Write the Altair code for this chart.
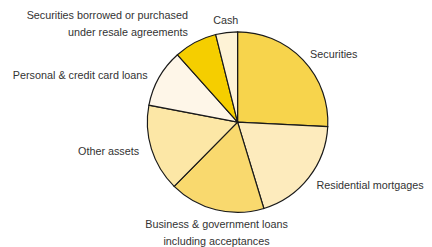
import altair as alt
import pandas as pd

categories = [
    "Securities",
    "Residential mortgages",
    "Business & government loans\nincluding acceptances",
    "Other assets",
    "Personal & credit card loans",
    "Securities borrowed or purchased\nunder resale agreements",
    "Cash",
]
shares = [25.8, 19.5, 17.1, 15.6, 10.4, 7.7, 3.9]
colors = ["#F7D44C", "#FDEBBD", "#F9D96E", "#FCE7A6", "#FEF6E8", "#F5CE00", "#FEF3D6"]
label_group = ["left", "left", "bottomside", "right", "right2", "topright", "topcenter"]

df = pd.DataFrame({
    "category": categories,
    "share": shares,
    "order": list(range(len(categories))),
    "group": label_group,
})

base = alt.Chart(df)

pie = base.mark_arc(outerRadius=92, stroke="#1a1a1a", strokeWidth=1.2).encode(
    theta=alt.Theta("share:Q", stack=True),
    order=alt.Order("order:Q", sort="ascending"),
    color=alt.Color("category:N", scale=alt.Scale(domain=categories, range=colors), legend=None),
)

font = "Liberation Sans"
text_style = dict(font=font, fontSize=11, color="#333333", lineHeight=17)

def label_layer(group, align, baseline, radius, dx=0, dy=0):
    return base.transform_joinaggregate(total="sum(share)").transform_window(
        cum="sum(share)", sort=[alt.SortField("order")]
    ).transform_calculate(
        frac="(datum.cum - datum.share/2) / datum.total"
    ).transform_filter(alt.datum.group == group).mark_text(
        align=align, baseline=baseline, radius=radius, lineBreak="\n",
        dx=dx, dy=dy, **text_style
    ).encode(
        theta=alt.Theta("frac:Q", scale=alt.Scale(domain=[0, 1], range=[0, 6.283185307179586])),
        text="category:N",
    )

labels = alt.layer(
    label_layer("left", "left", "middle", 102, dx=0, dy=2),
    label_layer("right", "right", "middle", 103, dx=-2),
    label_layer("right2", "right", "middle", 103, dx=-2, dy=4),
    label_layer("bottomside", "center", "top", 98, dx=2, dy=4),
    label_layer("topright", "right", "bottom", 104, dx=-2, dy=-11),
    label_layer("topcenter", "center", "bottom", 99),
)

chart = alt.layer(pie, labels).resolve_scale(theta="independent").properties(
    width=370, height=228,
    padding={"left": 49, "top": 0, "right": 5, "bottom": 11},
    autosize=alt.AutoSizeParams(type="none"),
).configure_view(stroke=None)

chart.save("out.html", embed_options={"renderer": "svg", "actions": False})
